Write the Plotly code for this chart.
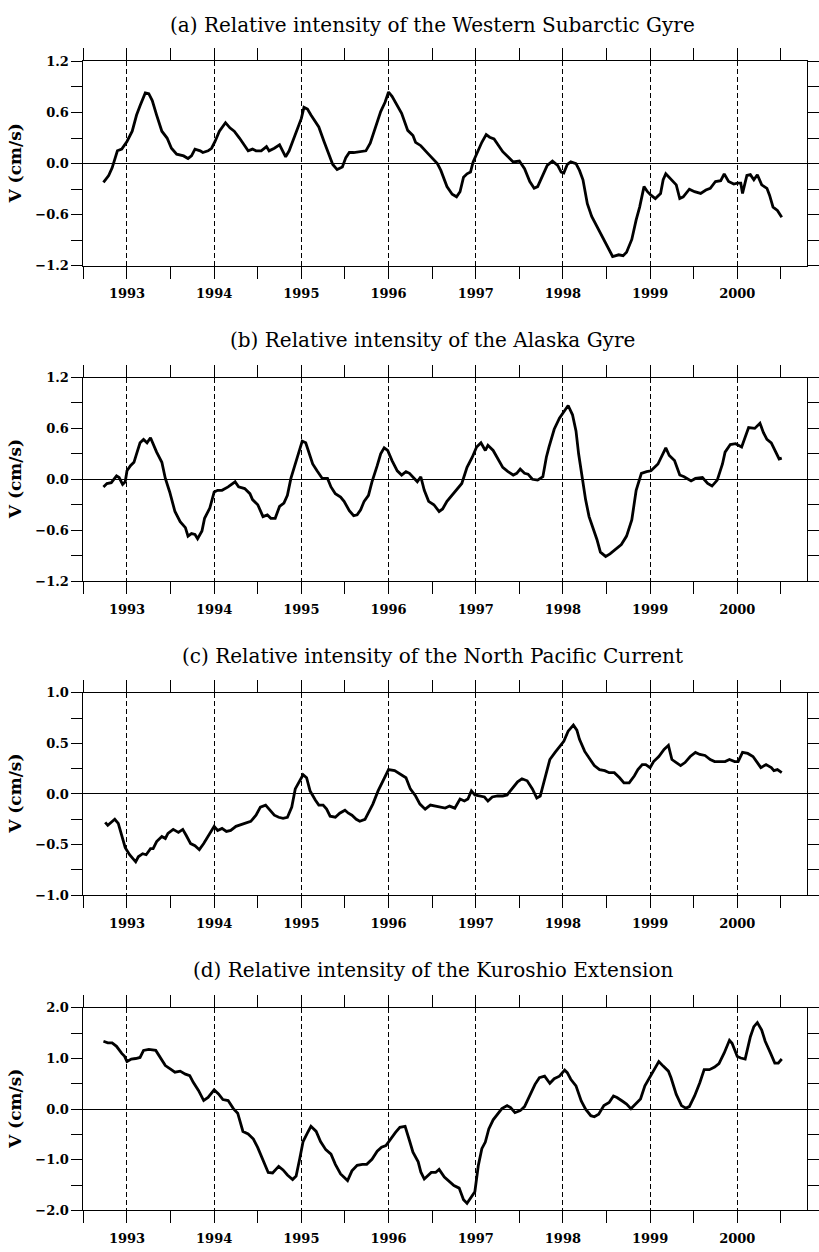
import plotly.graph_objects as go

# ---------------- data (decimal year, V in cm/s) ----------------
t_a = [1992.73, 1992.79, 1992.83, 1992.89, 1992.94, 1993.00, 1993.06, 1993.11, 1993.15, 1993.21,
       1993.25, 1993.29, 1993.34, 1993.40, 1993.46, 1993.51, 1993.57, 1993.65, 1993.70, 1993.74,
       1993.78, 1993.84, 1993.87, 1993.93, 1993.97, 1994.01, 1994.06, 1994.13, 1994.18, 1994.23,
       1994.29, 1994.35, 1994.39, 1994.44, 1994.48, 1994.54, 1994.60, 1994.63, 1994.69, 1994.75,
       1994.79, 1994.82, 1994.86, 1994.90, 1994.96, 1994.98, 1995.00, 1995.03, 1995.07, 1995.11,
       1995.17, 1995.20, 1995.26, 1995.32, 1995.36, 1995.41, 1995.47, 1995.51, 1995.55, 1995.60,
       1995.68, 1995.74, 1995.79, 1995.85, 1995.91, 1995.96, 1996.00, 1996.04, 1996.10, 1996.15,
       1996.22, 1996.28, 1996.31, 1996.37, 1996.45, 1996.50, 1996.56, 1996.60, 1996.63, 1996.67,
       1996.73, 1996.78, 1996.82, 1996.86, 1996.90, 1996.94, 1996.97, 1997.01, 1997.07, 1997.12,
       1997.16, 1997.21, 1997.26, 1997.31, 1997.37, 1997.43, 1997.50, 1997.56, 1997.62, 1997.67,
       1997.71, 1997.77, 1997.82, 1997.88, 1997.94, 1997.98, 1998.01, 1998.05, 1998.09, 1998.15,
       1998.19, 1998.23, 1998.28, 1998.33, 1998.39, 1998.45, 1998.50, 1998.57, 1998.64, 1998.69,
       1998.73, 1998.79, 1998.84, 1998.88, 1998.93, 1998.97, 1999.01, 1999.06, 1999.12, 1999.15,
       1999.18, 1999.24, 1999.30, 1999.34, 1999.38, 1999.45, 1999.51, 1999.58, 1999.64, 1999.69,
       1999.75, 1999.81, 1999.85, 1999.90, 1999.96, 2000.00, 2000.04, 2000.06, 2000.11, 2000.15,
       2000.19, 2000.23, 2000.28, 2000.34, 2000.37, 2000.41, 2000.46, 2000.51]
v_a = [-0.22, -0.14, -0.05, 0.15, 0.17, 0.26, 0.38, 0.57, 0.68, 0.83,
       0.82, 0.74, 0.57, 0.38, 0.30, 0.18, 0.11, 0.09, 0.06, 0.09,
       0.17, 0.15, 0.13, 0.15, 0.18, 0.26, 0.38, 0.48, 0.42, 0.38,
       0.30, 0.20, 0.15, 0.17, 0.15, 0.15, 0.20, 0.15, 0.18, 0.22,
       0.15, 0.08, 0.15, 0.26, 0.42, 0.49, 0.53, 0.66, 0.64, 0.57,
       0.47, 0.43, 0.26, 0.09, -0.01, -0.07, -0.04, 0.07, 0.13, 0.13,
       0.14, 0.15, 0.24, 0.42, 0.61, 0.72, 0.84, 0.79, 0.68, 0.59,
       0.39, 0.33, 0.25, 0.21, 0.12, 0.06, 0.00, -0.08, -0.16, -0.27,
       -0.36, -0.39, -0.33, -0.16, -0.12, -0.10, 0.02, 0.12, 0.25, 0.34,
       0.31, 0.29, 0.21, 0.14, 0.08, 0.02, 0.03, -0.06, -0.21, -0.29,
       -0.27, -0.14, -0.02, 0.03, -0.02, -0.10, -0.11, -0.01, 0.02, 0.00,
       -0.08, -0.19, -0.47, -0.62, -0.74, -0.86, -0.95, -1.09, -1.07, -1.08,
       -1.04, -0.89, -0.66, -0.51, -0.27, -0.33, -0.37, -0.41, -0.35, -0.19,
       -0.12, -0.19, -0.25, -0.41, -0.39, -0.30, -0.33, -0.35, -0.31, -0.29,
       -0.21, -0.20, -0.12, -0.21, -0.24, -0.23, -0.23, -0.35, -0.14, -0.13,
       -0.19, -0.13, -0.25, -0.29, -0.37, -0.51, -0.55, -0.63]

t_b = [1992.73, 1992.77, 1992.82, 1992.88, 1992.91, 1992.95, 1992.98, 1993.00, 1993.04, 1993.08,
       1993.11, 1993.15, 1993.19, 1993.23, 1993.27, 1993.30, 1993.34, 1993.40, 1993.44, 1993.49,
       1993.55, 1993.61, 1993.67, 1993.70, 1993.74, 1993.78, 1993.81, 1993.86, 1993.89, 1993.95,
       1994.00, 1994.04, 1994.09, 1994.16, 1994.20, 1994.24, 1994.28, 1994.35, 1994.41, 1994.44,
       1994.50, 1994.56, 1994.61, 1994.65, 1994.70, 1994.75, 1994.80, 1994.84, 1994.88, 1994.93,
       1994.98, 1995.01, 1995.05, 1995.09, 1995.13, 1995.18, 1995.24, 1995.30, 1995.34, 1995.39,
       1995.45, 1995.49, 1995.55, 1995.60, 1995.64, 1995.68, 1995.72, 1995.77, 1995.81, 1995.87,
       1995.91, 1995.95, 1995.99, 1996.04, 1996.10, 1996.15, 1996.20,
       1996.24, 1996.28, 1996.33, 1996.37, 1996.41, 1996.46, 1996.52, 1996.58, 1996.62, 1996.67,
       1996.73, 1996.79, 1996.84, 1996.90, 1996.96, 1997.01, 1997.06, 1997.11, 1997.14, 1997.20,
       1997.26, 1997.31, 1997.37, 1997.43, 1997.47, 1997.51, 1997.56, 1997.60, 1997.65, 1997.71,
       1997.77, 1997.81, 1997.84, 1997.90, 1997.96, 1998.01, 1998.06, 1998.11, 1998.15, 1998.18,
       1998.22, 1998.26, 1998.30, 1998.35, 1998.39, 1998.43, 1998.49, 1998.54, 1998.60, 1998.67,
       1998.73, 1998.79, 1998.84, 1998.90, 1998.96, 1999.01, 1999.09, 1999.14, 1999.18, 1999.22,
       1999.28, 1999.34, 1999.39, 1999.47, 1999.52, 1999.60, 1999.66, 1999.71, 1999.77, 1999.83,
       1999.86, 1999.92, 1999.98, 2000.05, 2000.09, 2000.13, 2000.20, 2000.26, 2000.30, 2000.34,
       2000.39, 2000.43, 2000.48, 2000.51]
v_b = [-0.09, -0.05, -0.04, 0.04, 0.02, -0.06, -0.03, 0.10, 0.16, 0.20,
       0.30, 0.43, 0.47, 0.43, 0.49, 0.41, 0.32, 0.20, 0.01, -0.15,
       -0.38, -0.50, -0.57, -0.67, -0.64, -0.65, -0.70, -0.61, -0.46, -0.34,
       -0.15, -0.13, -0.13, -0.09, -0.06, -0.03, -0.09, -0.11, -0.17, -0.24,
       -0.30, -0.44, -0.42, -0.46, -0.46, -0.32, -0.28, -0.19, 0.01, 0.18,
       0.36, 0.45, 0.43, 0.30, 0.18, 0.10, 0.01, 0.01, -0.09, -0.17,
       -0.21, -0.26, -0.37, -0.43, -0.42, -0.36, -0.26, -0.19, -0.03, 0.16,
       0.30, 0.37, 0.34, 0.22, 0.10, 0.05, 0.09,
       0.07, 0.03, -0.03, 0.03, -0.13, -0.26, -0.30, -0.38, -0.35, -0.26,
       -0.19, -0.11, -0.05, 0.14, 0.26, 0.38, 0.43, 0.34, 0.40, 0.34,
       0.24, 0.14, 0.09, 0.05, 0.07, 0.12, 0.07, 0.06, 0.00, -0.01,
       0.03, 0.26, 0.38, 0.59, 0.72, 0.80, 0.87, 0.76, 0.57, 0.30,
       0.03, -0.24, -0.44, -0.59, -0.71, -0.86, -0.91, -0.88, -0.83, -0.77,
       -0.67, -0.48, -0.13, 0.07, 0.09, 0.10, 0.18, 0.28, 0.37, 0.28,
       0.22, 0.05, 0.03, -0.02, 0.01, 0.02, -0.05, -0.08, -0.01, 0.18,
       0.32, 0.41, 0.42, 0.38, 0.49, 0.61, 0.60, 0.66, 0.55, 0.47,
       0.43, 0.34, 0.24, 0.25]

t_c = [1992.75, 1992.78, 1992.82, 1992.86, 1992.90, 1992.94, 1992.98, 1993.03, 1993.10, 1993.13,
       1993.18, 1993.22, 1993.27, 1993.30, 1993.34, 1993.40, 1993.44, 1993.47, 1993.53, 1993.59,
       1993.64, 1993.68, 1993.73, 1993.78, 1993.83, 1993.88, 1993.93, 1993.97, 1994.00, 1994.04,
       1994.09, 1994.14, 1994.19, 1994.25, 1994.31, 1994.36, 1994.42, 1994.48, 1994.53, 1994.59,
       1994.64, 1994.69, 1994.74, 1994.79, 1994.84, 1994.89, 1994.93, 1994.97, 1995.02, 1995.06,
       1995.10, 1995.16, 1995.20, 1995.25, 1995.29, 1995.33, 1995.39, 1995.44, 1995.50, 1995.54,
       1995.58, 1995.63, 1995.67, 1995.73, 1995.77, 1995.82, 1995.88, 1995.94, 1996.00, 1996.07,
       1996.14, 1996.20,
       1996.25, 1996.31, 1996.36, 1996.42, 1996.48, 1996.53, 1996.59, 1996.65, 1996.70, 1996.76,
       1996.82, 1996.87, 1996.91, 1996.95, 1996.99, 1997.04, 1997.10, 1997.14, 1997.19, 1997.25,
       1997.31, 1997.36, 1997.42, 1997.48, 1997.53, 1997.59, 1997.65, 1997.70, 1997.74, 1997.80,
       1997.85, 1997.91, 1997.97, 1998.01, 1998.06, 1998.12, 1998.16, 1998.19, 1998.25, 1998.31,
       1998.36, 1998.42, 1998.48, 1998.53, 1998.59, 1998.65, 1998.70, 1998.76, 1998.82, 1998.86,
       1998.91, 1998.95, 1999.00, 1999.04, 1999.10, 1999.16, 1999.21, 1999.25, 1999.31, 1999.35,
       1999.40, 1999.46, 1999.52, 1999.57, 1999.63, 1999.69, 1999.74, 1999.80, 1999.86, 1999.91,
       1999.97, 2000.01, 2000.06, 2000.12, 2000.18, 2000.23, 2000.27, 2000.33, 2000.39, 2000.42,
       2000.46, 2000.51]
v_c = [-0.28, -0.31, -0.28, -0.25, -0.29, -0.42, -0.53, -0.60, -0.67, -0.62,
       -0.59, -0.60, -0.54, -0.54, -0.47, -0.42, -0.44, -0.39, -0.35, -0.38,
       -0.35, -0.41, -0.49, -0.51, -0.55, -0.49, -0.42, -0.36, -0.32, -0.36,
       -0.34, -0.37, -0.36, -0.32, -0.30, -0.29, -0.27, -0.21, -0.13, -0.11,
       -0.16, -0.21, -0.23, -0.24, -0.23, -0.13, 0.05, 0.11, 0.19, 0.16,
       0.03, -0.06, -0.11, -0.11, -0.15, -0.22, -0.23, -0.19, -0.16, -0.19,
       -0.21, -0.25, -0.27, -0.25, -0.19, -0.10, 0.03, 0.13, 0.24, 0.23,
       0.19, 0.16,
       0.05, -0.02, -0.10, -0.15, -0.11, -0.12, -0.13, -0.14, -0.12, -0.14,
       -0.05, -0.07, -0.05, 0.03, -0.01, -0.02, -0.03, -0.07, -0.03, -0.02,
       -0.02, -0.01, 0.05, 0.12, 0.15, 0.13, 0.05, -0.04, -0.02, 0.18,
       0.34, 0.41, 0.47, 0.52, 0.62, 0.68, 0.63, 0.54, 0.42, 0.34,
       0.28, 0.24, 0.23, 0.21, 0.21, 0.16, 0.11, 0.11, 0.18, 0.24,
       0.29, 0.29, 0.26, 0.32, 0.37, 0.44, 0.48, 0.34, 0.30, 0.28,
       0.31, 0.37, 0.41, 0.39, 0.38, 0.34, 0.32, 0.32, 0.32, 0.34,
       0.32, 0.32, 0.41, 0.40, 0.37, 0.31, 0.26, 0.29, 0.26, 0.23,
       0.24, 0.21]

t_d = [1992.73, 1992.78, 1992.83, 1992.88, 1992.94, 1992.97, 1993.00, 1993.05, 1993.10, 1993.15,
       1993.19, 1993.25, 1993.33, 1993.38, 1993.44, 1993.50, 1993.55, 1993.61, 1993.67, 1993.72,
       1993.76, 1993.82, 1993.88, 1993.93, 1994.00, 1994.05, 1994.10, 1994.16, 1994.22, 1994.27,
       1994.33, 1994.39, 1994.45, 1994.50, 1994.56, 1994.62, 1994.67, 1994.74, 1994.79, 1994.84,
       1994.90, 1994.94, 1994.98, 1995.02, 1995.07, 1995.11, 1995.17, 1995.22, 1995.28, 1995.34,
       1995.39, 1995.45, 1995.53, 1995.58, 1995.64, 1995.70, 1995.75, 1995.81, 1995.87, 1995.92,
       1995.97, 1996.02, 1996.08, 1996.13, 1996.19,
       1996.24, 1996.28, 1996.34, 1996.37, 1996.41, 1996.45, 1996.49, 1996.54, 1996.58,
       1996.64, 1996.69, 1996.75, 1996.81, 1996.86, 1996.90, 1996.94, 1996.99, 1997.03, 1997.07,
       1997.11, 1997.15, 1997.20, 1997.26, 1997.30, 1997.36, 1997.40, 1997.45, 1997.51, 1997.56,
       1997.62, 1997.68, 1997.73, 1997.79, 1997.85, 1997.90, 1997.96, 1998.02, 1998.05, 1998.09,
       1998.15, 1998.21, 1998.26, 1998.32, 1998.36, 1998.41, 1998.47, 1998.53, 1998.58, 1998.62,
       1998.68, 1998.73, 1998.78, 1998.83, 1998.89, 1998.94, 1999.00, 1999.06, 1999.10, 1999.15,
       1999.21, 1999.24, 1999.30, 1999.36, 1999.41, 1999.45, 1999.51, 1999.57, 1999.62, 1999.68,
       1999.74, 1999.79, 1999.85, 1999.91, 1999.94, 2000.00, 2000.04, 2000.09, 2000.15, 2000.19,
       2000.23, 2000.28, 2000.32, 2000.38, 2000.43, 2000.47, 2000.51]
v_d = [1.34, 1.31, 1.31, 1.24, 1.10, 1.05, 0.94, 0.99, 1.00, 1.02,
       1.16, 1.18, 1.16, 1.02, 0.86, 0.79, 0.73, 0.75, 0.69, 0.66,
       0.53, 0.37, 0.17, 0.23, 0.38, 0.30, 0.19, 0.17, 0.01, -0.08,
       -0.44, -0.49, -0.59, -0.76, -0.99, -1.25, -1.26, -1.13, -1.20, -1.30,
       -1.39, -1.32, -0.99, -0.64, -0.47, -0.34, -0.44, -0.64, -0.80, -0.89,
       -1.09, -1.28, -1.41, -1.22, -1.11, -1.09, -1.09, -0.99, -0.83, -0.75,
       -0.72, -0.59, -0.46, -0.36, -0.34,
       -0.62, -0.85, -1.04, -1.24, -1.38, -1.32, -1.25, -1.25, -1.19,
       -1.34, -1.42, -1.51, -1.56, -1.79, -1.86, -1.76, -1.63, -1.11, -0.78,
       -0.65, -0.39, -0.21, -0.07, 0.01, 0.07, 0.03, -0.07, -0.03, 0.05,
       0.26, 0.49, 0.62, 0.65, 0.51, 0.60, 0.65, 0.77, 0.72, 0.59,
       0.46, 0.16, 0.00, -0.13, -0.15, -0.10, 0.07, 0.13, 0.26, 0.23,
       0.16, 0.10, 0.01, 0.10, 0.20, 0.46, 0.65, 0.81, 0.94, 0.85,
       0.75, 0.62, 0.29, 0.07, 0.02, 0.05, 0.26, 0.52, 0.78, 0.78,
       0.83, 0.90, 1.11, 1.36, 1.30, 1.04, 1.01, 0.99, 1.43, 1.63,
       1.71, 1.56, 1.34, 1.11, 0.91, 0.91, 0.99]

titles = ["(a) Relative intensity of the Western Subarctic Gyre",
          "(b) Relative intensity of the Alaska Gyre",
          "(c) Relative intensity of the North Pacific Current",
          "(d) Relative intensity of the Kuroshio Extension"]
y_title = "V (cm/s)"
year_ticks = [1993, 1994, 1995, 1996, 1997, 1998, 1999, 2000]
half_year_ticks = [1992.5, 1993.5, 1994.5, 1995.5, 1996.5, 1997.5, 1998.5, 1999.5, 2000.5]
y_ranges = [(-1.2, 1.2), (-1.2, 1.2), (-1.0, 1.0), (-2.0, 2.0)]
y_major = [0.6, 0.6, 0.5, 1.0]
x_range = [1992.5, 2000.8]

series = [(t_a, v_a), (t_b, v_b), (t_c, v_c), (t_d, v_d)]

# ---------------- layout (pixel geometry) ----------------
W, H = 819, 1252
x_left, x_right = 84, 813
panel_px = [(55, 262), (375, 581), (694, 899), (1013, 1218)]
title_px = [18, 337, 657, 975]
title_x = 436
ylab_x = 15

SERIF = "DejaVu Serif"
BLK = "black"

fig = go.Figure()
layout = dict(
    width=W, height=H,
    margin=dict(l=0, r=0, t=0, b=0),
    paper_bgcolor="white", plot_bgcolor="rgba(0,0,0,0)",
    showlegend=False,
    annotations=[],
)

tickfont = dict(family=SERIF, size=13, color=BLK, weight="bold")

for i, ((t, v), (top, bot)) in enumerate(zip(series, panel_px)):
    n = "" if i == 0 else str(i + 1)
    nx_top = str(i + 5)    # top x axis id
    ny_right = str(i + 5)  # right y axis id
    fig.add_trace(go.Scatter(x=t, y=v, mode="lines",
                             line=dict(color=BLK, width=2.8),
                             xaxis="x" + n, yaxis="y" + n,
                             hoverinfo="skip"))
    # empty helper traces so the top / right frame axes get drawn
    fig.add_trace(go.Scatter(x=[], y=[], xaxis="x" + nx_top, yaxis="y" + n,
                             hoverinfo="skip"))
    fig.add_trace(go.Scatter(x=[], y=[], xaxis="x" + n, yaxis="y" + ny_right,
                             hoverinfo="skip"))
    ydom = [1 - bot / H, 1 - top / H]
    xdom = [x_left / W, x_right / W]
    lo, hi = y_ranges[i]

    xminor = dict(tickmode="array", tickvals=half_year_ticks, ticks="outside",
                  ticklen=5, tickwidth=1, tickcolor=BLK, showgrid=False)
    layout["xaxis" + n] = dict(
        domain=xdom, anchor="y" + n, range=x_range,
        tickmode="array", tickvals=year_ticks,
        ticktext=[str(y) for y in year_ticks],
        ticks="outside", ticklen=12, tickwidth=1, tickcolor=BLK,
        ticklabelstandoff=4,
        showline=True, linecolor=BLK, linewidth=1, mirror="allticks",
        showgrid=True, gridcolor=BLK, gridwidth=1, griddash="5px,3px",
        zeroline=False, minor=xminor, tickfont=tickfont, fixedrange=True,
    )
    layout["xaxis" + nx_top] = dict(
        domain=xdom, anchor="y" + n, side="top", range=x_range,
        tickmode="array", tickvals=year_ticks, showticklabels=False,
        ticks="outside", ticklen=12, tickwidth=1, tickcolor=BLK,
        showline=True, linecolor=BLK, linewidth=1,
        showgrid=False, zeroline=False, minor=xminor, fixedrange=True,
    )
    yminor = dict(dtick=y_major[i] / 2, tick0=0, ticks="outside",
                  ticklen=5, tickwidth=1, tickcolor=BLK, showgrid=False)
    layout["yaxis" + n] = dict(
        domain=ydom, anchor="x" + n,
        range=[lo, hi], tick0=0, dtick=y_major[i], tickformat=".1f",
        ticks="outside", ticklen=11, tickwidth=1, tickcolor=BLK,
        showline=True, linecolor=BLK, linewidth=1, mirror="allticks",
        showgrid=False,
        zeroline=True, zerolinecolor=BLK, zerolinewidth=1,
        minor=yminor, tickfont=tickfont, fixedrange=True,
    )
    layout["yaxis" + ny_right] = dict(
        overlaying="y" + n, anchor="x" + n, side="right",
        range=[lo, hi], tick0=0, dtick=y_major[i], showticklabels=False,
        ticks="outside", ticklen=6, tickwidth=1, tickcolor=BLK,
        showline=True, linecolor=BLK, linewidth=1,
        showgrid=False, zeroline=False, minor=yminor, fixedrange=True,
    )
    layout["annotations"].append(dict(
        text=titles[i], xref="paper", yref="paper",
        x=title_x / W, y=1 - title_px[i] / H, xanchor="center", yanchor="middle",
        showarrow=False, font=dict(family=SERIF, size=20, color=BLK)))
    layout["annotations"].append(dict(
        text=y_title, xref="paper", yref="paper",
        x=ylab_x / W, y=1 - (top + bot) / 2 / H, xanchor="center", yanchor="middle",
        textangle=-90, showarrow=False,
        font=dict(family=SERIF, size=17, color=BLK, weight="bold")))

fig.update_layout(**layout)
fig.write_html("out.html")
